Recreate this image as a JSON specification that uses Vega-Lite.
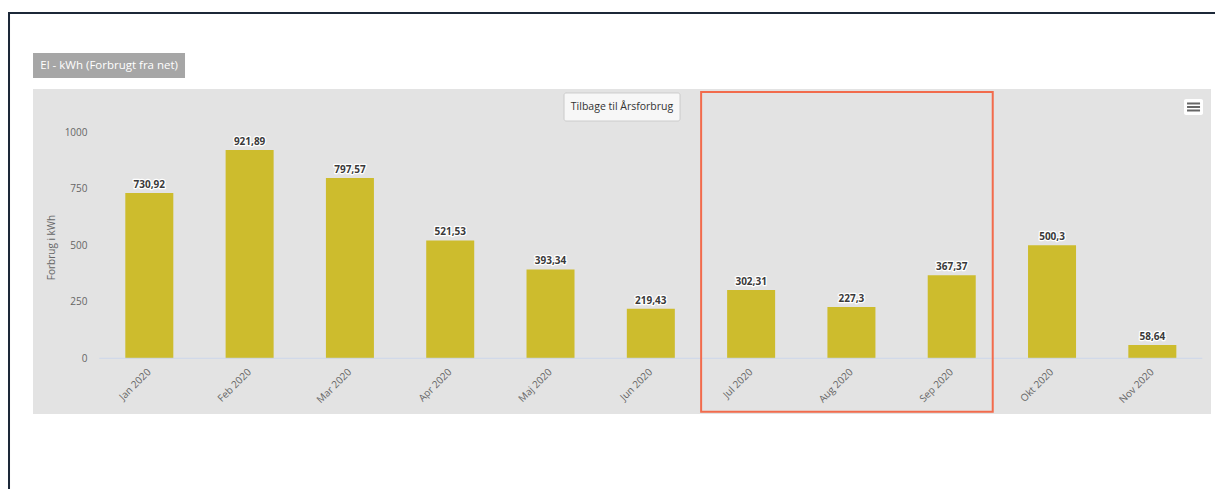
{
  "$schema": "https://vega.github.io/schema/vega-lite/v6.json",
  "width": 1178,
  "height": 325,
  "autosize": {"type": "none"},
  "padding": {"left": 33, "top": 89, "right": 4, "bottom": 75},
  "background": "#ffffff",
  "config": {
    "font": "Open Sans",
    "view": {"fill": "#e3e3e3", "stroke": null},
    "locale": {"number": {"decimal": ",", "thousands": ".", "grouping": [3], "currency": ["", " kr."]}}
  },
  "data": {
    "values": [
      {"month": "Jan 2020", "kwh": 730.92},
      {"month": "Feb 2020", "kwh": 921.89},
      {"month": "Mar 2020", "kwh": 797.57},
      {"month": "Apr 2020", "kwh": 521.53},
      {"month": "Maj 2020", "kwh": 393.34},
      {"month": "Jun 2020", "kwh": 219.43},
      {"month": "Jul 2020", "kwh": 302.31},
      {"month": "Aug 2020", "kwh": 227.3},
      {"month": "Sep 2020", "kwh": 367.37},
      {"month": "Okt 2020", "kwh": 500.3},
      {"month": "Nov 2020", "kwh": 58.64}
    ]
  },
  "layer": [
    {
      "data": {"values": [{}]},
      "mark": {"type": "rect", "filled": false, "color": "#1c2838", "strokeWidth": 2, "xOffset": -116.3, "x2Offset": 80},
      "encoding": {
        "x": {"datum": "Jan 2020", "bandPosition": 0},
        "x2": {"datum": "Nov 2020", "bandPosition": 1},
        "y": {"datum": 1528},
        "y2": {"datum": -1000}
      }
    },
    {
      "data": {"values": [{}]},
      "mark": {"type": "rect", "color": "#a6a6a6", "xOffset": -92.3, "x2Offset": 59.7},
      "encoding": {
        "x": {"datum": "Jan 2020", "bandPosition": 0},
        "x2": {"datum": "Jan 2020", "bandPosition": 0},
        "y": {"datum": 1351},
        "y2": {"datum": 1240}
      }
    },
    {
      "data": {"values": [{}]},
      "mark": {"type": "text", "align": "left", "baseline": "middle", "fontSize": 11.5, "color": "#ffffff", "xOffset": -85, "text": "El - kWh (Forbrugt fra net)"},
      "encoding": {
        "x": {"datum": "Jan 2020", "bandPosition": 0},
        "y": {"datum": 1293}
      }
    },
    {
      "mark": {"type": "bar", "color": "#cdbc2d"},
      "encoding": {
        "x": {
          "field": "month",
          "type": "nominal",
          "sort": null,
          "scale": {
            "type": "band",
            "domain": ["Jan 2020", "Feb 2020", "Mar 2020", "Apr 2020", "Maj 2020", "Jun 2020", "Jul 2020", "Aug 2020", "Sep 2020", "Okt 2020", "Nov 2020"],
            "paddingInner": 0.5214,
            "paddingOuter": 0.633,
            "align": 0.727
          },
          "axis": {
            "title": null,
            "labelAngle": -45,
            "labelAlign": "right",
            "labelBaseline": "middle",
            "labelPadding": 12,
            "ticks": false,
            "domain": false,
            "grid": false,
            "offset": -56,
            "labelFontSize": 10,
            "labelColor": "#666666",
            "labelOverlap": false,
            "labelBound": false,
            "labelFlush": false
          }
        },
        "y": {
          "field": "kwh",
          "type": "quantitative",
          "scale": {"domain": [-246.5, 1191.6], "nice": false, "zero": false},
          "axis": {
            "title": "Forbrug i kWh",
            "values": [0, 250, 500, 750, 1000],
            "format": "d",
            "ticks": false,
            "domain": false,
            "grid": false,
            "offset": -54,
            "labelPadding": 0,
            "labelFontSize": 10,
            "labelColor": "#666666",
            "titleFontSize": 10,
            "titleFontWeight": "normal",
            "titleColor": "#666666",
            "titlePadding": 8,
            "titleY": 158
          }
        },
        "y2": {"datum": 0}
      }
    },
    {
      "data": {"values": [{}]},
      "mark": {"type": "rule", "color": "#ccd6eb", "strokeWidth": 1, "xOffset": -26, "x2Offset": 26},
      "encoding": {
        "x": {"datum": "Jan 2020", "bandPosition": 0},
        "x2": {"datum": "Nov 2020", "bandPosition": 1},
        "y": {"datum": 0}
      }
    },
    {
      "mark": {"type": "text", "baseline": "alphabetic", "dy": -5, "fontWeight": "bold", "fontSize": 10, "stroke": "#ffffff", "strokeWidth": 2.5, "strokeJoin": "round", "fill": "#ffffff"},
      "encoding": {
        "x": {"field": "month", "type": "nominal"},
        "y": {"field": "kwh", "type": "quantitative"},
        "text": {"field": "kwh", "type": "quantitative", "format": ".2~f"}
      }
    },
    {
      "mark": {"type": "text", "baseline": "alphabetic", "dy": -5, "fontWeight": "bold", "fontSize": 10, "color": "#3a3a3a"},
      "encoding": {
        "x": {"field": "month", "type": "nominal"},
        "y": {"field": "kwh", "type": "quantitative"},
        "text": {"field": "kwh", "type": "quantitative", "format": ".2~f"}
      }
    },
    {
      "data": {"values": [{}]},
      "mark": {"type": "rect", "filled": false, "color": "#f26b4c", "strokeWidth": 2, "xOffset": -26, "x2Offset": 17},
      "encoding": {
        "x": {"datum": "Jul 2020", "bandPosition": 0},
        "x2": {"datum": "Sep 2020", "bandPosition": 1},
        "y": {"datum": 1178},
        "y2": {"datum": -237}
      }
    },
    {
      "data": {"values": [{}]},
      "mark": {"type": "rect", "fill": "#f7f7f7", "stroke": "#cccccc", "strokeWidth": 1, "cornerRadius": 2, "xOffset": -86.8, "x2Offset": 29.2},
      "encoding": {
        "x": {"datum": "Jun 2020", "bandPosition": 0.5},
        "x2": {"datum": "Jun 2020", "bandPosition": 0.5},
        "y": {"datum": 1174},
        "y2": {"datum": 1050}
      }
    },
    {
      "data": {"values": [{}]},
      "mark": {"type": "text", "align": "center", "baseline": "middle", "fontSize": 10.5, "color": "#333333", "xOffset": -28.8, "text": "Tilbage til Årsforbrug"},
      "encoding": {
        "x": {"datum": "Jun 2020", "bandPosition": 0.5},
        "y": {"datum": 1112}
      }
    },
    {
      "data": {"values": [{}]},
      "mark": {"type": "rect", "fill": "#ffffff", "cornerRadius": 2, "xOffset": 7.7, "x2Offset": 26.7},
      "encoding": {
        "x": {"datum": "Nov 2020", "bandPosition": 1},
        "x2": {"datum": "Nov 2020", "bandPosition": 1},
        "y": {"datum": 1147},
        "y2": {"datum": 1076.5}
      }
    },
    {
      "data": {"values": [{}]},
      "mark": {"type": "rule", "color": "#666666", "strokeWidth": 2, "xOffset": 10.7, "x2Offset": 23.7},
      "encoding": {
        "x": {"datum": "Nov 2020", "bandPosition": 1},
        "x2": {"datum": "Nov 2020", "bandPosition": 1},
        "y": {"datum": 1127.5}
      }
    },
    {
      "data": {"values": [{}]},
      "mark": {"type": "rule", "color": "#666666", "strokeWidth": 2, "xOffset": 10.7, "x2Offset": 23.7},
      "encoding": {
        "x": {"datum": "Nov 2020", "bandPosition": 1},
        "x2": {"datum": "Nov 2020", "bandPosition": 1},
        "y": {"datum": 1112}
      }
    },
    {
      "data": {"values": [{}]},
      "mark": {"type": "rule", "color": "#666666", "strokeWidth": 2, "xOffset": 10.7, "x2Offset": 23.7},
      "encoding": {
        "x": {"datum": "Nov 2020", "bandPosition": 1},
        "x2": {"datum": "Nov 2020", "bandPosition": 1},
        "y": {"datum": 1096.5}
      }
    }
  ]
}
